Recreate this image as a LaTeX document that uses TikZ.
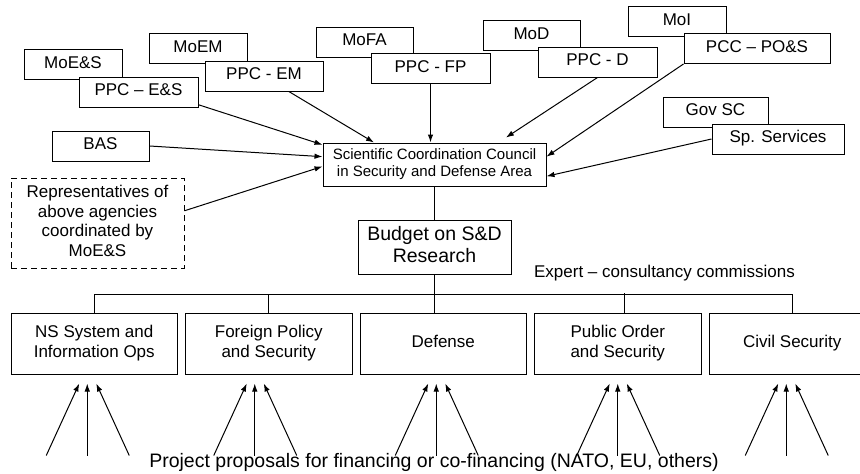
\documentclass[tikz,border=0pt]{standalone}
\usepackage{fontspec}
\setmainfont{Liberation Sans}
\usetikzlibrary{positioning,calc,arrows.meta}

\begin{document}
\begin{tikzpicture}[x=1pt, y=-1pt]
      \newcommand{\boxgap}[0]{7pt}

      \newcommand{\boxname}[1]{\fontsize{17}{19.5}\selectfont \begin{tabular}{c}#1\end{tabular}}
      \newcommand{\councilname}[1]{\fontsize{15}{17}\selectfont \begin{tabular}{c}#1\end{tabular}}
      \newcommand{\budgetname}[1]{\fontsize{19.5}{22}\selectfont \begin{tabular}{c}#1\end{tabular}}

      \tikzstyle{block}     = [rectangle, draw, line width=1pt, fill=white, minimum height=30pt, inner sep=0pt]
      \tikzstyle{area}      = [block, minimum width=166.5pt, minimum height=61pt]
      \tikzstyle{connector} = [line width=1pt, -{Latex[length=8pt, width=5.5pt]}]
      \tikzstyle{link}      = [line width=1pt]

      \useasboundingbox (0,0) rectangle (860,474);
      \clip (0,0) rectangle (860,474);

      \node [block, minimum width=98pt]  (moes)   at (73,64.5)   {\boxname{MoE\&S}};
      \node [block, minimum width=119pt] (ppces)  at (138.5,92)  {\boxname{PPC -- E\&S}};
      \node [block, minimum width=98pt]  (moem)   at (198,48.5)  {\boxname{MoEM}};
      \node [block, minimum width=118pt] (ppcem)  at (264,76)    {\boxname{PPC - EM}};
      \node [block, minimum width=97pt]  (mofa)   at (364.5,42)  {\boxname{MoFA}};
      \node [block, minimum width=119pt] (ppcfp)  at (430.5,68.5) {\boxname{PPC - FP}};
      \node [block, minimum width=97pt]  (mod)    at (531.5,35.5) {\boxname{MoD}};
      \node [block, minimum width=119pt] (ppcd)   at (597.5,62)  {\boxname{PPC - D}};
      \node [block, minimum width=98pt]  (moi)    at (677,21.5)  {\boxname{MoI}};
      \node [block, minimum width=146pt] (pccpos) at (757,48.5)  {\boxname{PCC -- PO\&S}};
      \node [block, minimum width=105pt] (govsc)  at (715.5,112) {\boxname{Gov SC}};
      \node [block, minimum width=132pt] (spserv) at (778,139)   {\boxname{Sp. Services}};
      \node [block, minimum width=97pt]  (bas)    at (100.5,146) {\boxname{BAS}};
      \node [block, dash pattern=on 6pt off 4pt, minimum width=173pt, minimum height=90pt] (repr) at (97.5,223)
            {\boxname{Representatives of\\above agencies\\coordinated by\\MoE\&S}};

      \node [block, minimum width=223pt, minimum height=43pt] (council) at (434.5,164.5)
            {\councilname{Scientific Coordination Council\\in Security and Defense Area}};
      \node [block, minimum width=153pt, minimum height=54pt, below = 33pt of council] (budget)
            {\budgetname{Budget on S\&D\\Research}};

      \node [area]                             (ns)      at (94.25,343.5) {\boxname{NS System and\\Information Ops}};
      \node [area, right = \boxgap of ns]      (foreign) {\boxname{Foreign Policy\\and Security}};
      \node [area, right = \boxgap of foreign] (defense) {\boxname{Defense}};
      \node [area, right = \boxgap of defense] (public)  {\boxname{Public Order\\and Security}};
      \node [area, right = \boxgap of public]  (civil)   {\boxname{Civil Security}};

      \node [anchor=base] (expert)    at (664.5,277) {\fontsize{17}{19.5}\selectfont Expert -- consultancy commissions};
      \node [anchor=base] (proposals) at (434,467)   {\fontsize{19.5}{22}\selectfont Project proposals for financing or co-financing (NATO, EU, others)};

      \draw [connector] (ppces.-12)          -- (council.170);
      \draw [connector] (ppcem.-32)          -- (council.160);
      \draw [connector] (ppcfp)              -- (ppcfp |- council.north);
      \draw [connector, shorten >=9pt] (ppcd.south) -- (council.19);
      \draw [connector] (pccpos.south west)  -- (council.4);
      \draw [connector] (spserv.west)        -- (council.-6);
      \draw [connector] (bas.east)           -- (council.176);
      \draw [connector] (repr.8)             -- (council.181);

      \coordinate (bus) at ($(budget.south)+(0,20)$);
      \draw [link] (council) -- (budget);
      \draw [link] (budget) -- (budget |- defense.north);
      \draw [link] (ns.north) |- (bus) -| (civil.north);
      \draw [link] (foreign.north) -- (foreign.north |- bus);
      \draw [link] ([xshift=7pt]public.north) -- ++(0,-20);

      \foreach \bx/\dx in {ns/-7, foreign/-14, defense/-7, public/0, civil/-6} {
        \coordinate (\bx-mid)   at ([xshift=\dx pt, yshift=-9pt]\bx.south);
        \coordinate (\bx-src-l) at ([xshift=-41pt, yshift=-72pt]\bx-mid);
        \coordinate (\bx-src-m) at ([yshift=-72pt]\bx-mid);
        \coordinate (\bx-src-r) at ([xshift=42pt, yshift=-72pt]\bx-mid);
        \draw [connector] (\bx-src-l) -- ([xshift=-8pt]\bx-mid);
        \draw [connector] (\bx-src-m) -- (\bx-mid);
        \draw [connector] (\bx-src-r) -- ([xshift=9pt]\bx-mid);
      }
    \end{tikzpicture}
\end{document}
